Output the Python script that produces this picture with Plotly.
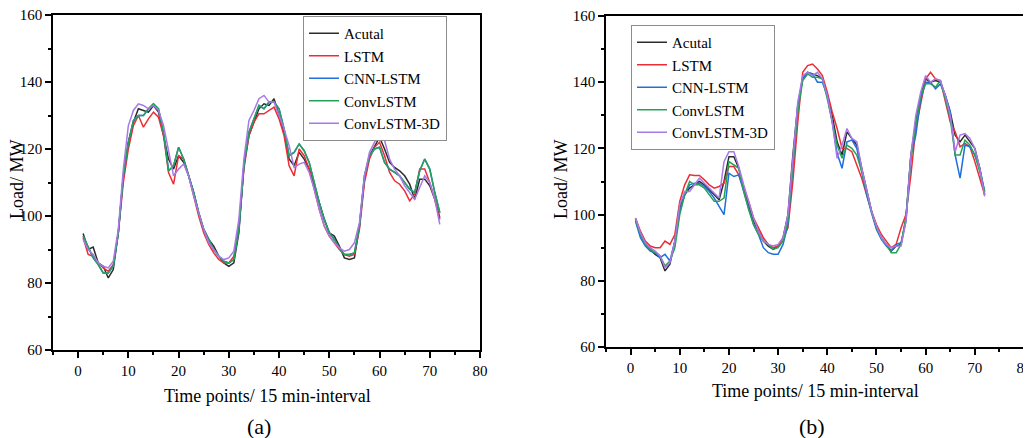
import plotly.graph_objects as go

t = list(range(1, 73))

# ---- panel (a) ----
actual_a = [94.8, 90, 90.7, 86, 85, 81.5, 84, 95, 112, 122, 128, 132, 131.5, 131, 133, 131,
            124, 117, 114, 118, 116, 112, 107, 101, 96, 93, 91, 88, 86, 85, 86, 95,
            115, 124, 128, 132, 133.5, 133, 135, 130, 125, 117, 115, 119, 117, 114, 109, 104,
            99, 95, 94, 91, 87.5, 87, 87.5, 97, 111, 118, 121, 123.5, 120, 116, 114.5, 113.5,
            112, 109.5, 105, 111, 111, 109, 105, 99.5]
lstm_a = [93.5, 88.5, 88, 86, 84.5, 83.5, 85.5, 95, 110, 120, 127, 130, 126.5, 129, 131, 129.5,
          124, 113, 109.5, 118, 117, 112, 106, 100, 95, 91.5, 89, 87, 86, 86, 88, 97,
          114, 124, 128, 130.5, 130.5, 131.5, 132.5, 129, 124, 115, 112, 120, 118, 114, 108, 102,
          97, 94, 92, 90, 88.5, 88, 88.5, 96, 110, 117, 120.5, 122, 118, 113, 110.5, 109.5,
          107.5, 104.5, 106.5, 114, 114, 110, 105, 99]
convlstm_a = [94, 91, 87.5, 85.5, 83, 83, 85, 95, 112, 122, 128.5, 130, 130, 132, 133.5, 132,
              125, 113.5, 115, 120.5, 117, 112, 107, 101, 96, 93, 90, 88, 86.5, 86, 87, 96,
              115, 125, 129, 133, 132, 134, 134, 132, 126, 118, 119, 121.5, 119.5, 116, 110, 104,
              99, 95, 93, 90.5, 88.5, 88.5, 89, 97, 112, 118, 120, 120.5, 116, 114, 113, 112,
              110, 108, 107, 113.5, 117, 114, 107, 101]
cnnlstm_a = [94, 91, 87.5, 85.5, 83, 83, 85, 95, 112, 122, 128.5, 130, 130, 132, 133.5, 132,
             125, 113.5, 115, 120.5, 117, 112, 107, 101, 96, 93, 90, 88, 86.5, 86, 87, 96,
             115, 125, 129, 133, 132, 134, 134, 132, 126, 118, 119, 121.5, 119.5, 116, 110, 104,
             99, 95, 93, 90.5, 88.5, 88.5, 89, 97, 112, 118, 120, 120.5, 116, 114, 113, 112,
             110, 108, 107, 113.5, 117, 114, 107, 101]
conv3d_a = [93, 90, 88.5, 86, 85, 84.5, 86.5, 96, 114, 127, 131.5, 133.5, 133, 132, 133, 131.5,
            127, 120, 112, 114, 115.5, 112, 106, 101, 96, 92, 90, 88, 87, 87.5, 89.5, 99,
            117, 128.5, 131.5, 135, 136, 134, 134, 130, 126, 121, 114.5, 115.5, 116, 113, 108, 102,
            97, 94, 92, 90.5, 89.5, 90, 92, 98, 112, 119, 122, 125, 122.5, 117, 114, 112,
            109, 107, 105, 108.5, 112, 110, 105, 97.5]

# ---- panel (b) ----
actual_b = [98.5, 94, 91, 89.5, 88, 87, 83, 85, 92, 102, 106, 108, 109, 110, 109, 107.5,
            106, 104.5, 110, 117.5, 117.5, 114, 108, 103, 98, 95, 92, 90.5, 89.5, 90.5, 93, 100,
            118, 133, 141, 143, 142.5, 142, 141, 136, 130, 122, 118, 125, 123, 121, 114, 107,
            101, 96, 93, 91, 89, 90.5, 91, 99, 118, 128, 136, 141, 140, 140.5, 140, 136,
            131, 124, 122, 124, 122, 120, 114, 106]
lstm_b = [99, 95, 92, 90.5, 90, 90, 92, 91, 94, 104, 109, 112, 111.8, 111.8, 110.5, 109,
          108, 108.5, 109.5, 114.5, 114.5, 112, 108, 104, 99, 96, 93, 91, 90, 90.5, 93, 96,
          110, 128, 143, 145, 145.5, 144, 142, 137, 131, 126, 120, 120, 119, 115, 111, 106,
          101, 97, 94, 92, 90, 91, 96, 100, 112, 126, 134, 141, 143, 141, 140.5, 134,
          128, 125, 120.5, 121.5, 120.5, 116, 111, 106]
cnnlstm_b = [98, 93, 90.5, 89, 88.5, 87, 88, 86, 92, 101, 106, 109, 109.5, 109.5, 108.5, 107,
             105, 102.5, 100, 112.5, 111.5, 112, 107, 102, 97, 94, 90, 88.5, 88, 88, 91, 97,
             115, 133, 141, 143, 142.5, 140, 140, 136, 128, 118.5, 114, 122, 122.5, 120, 113, 106,
             100.5, 95.5, 92.5, 90.5, 89, 91, 91.5, 98, 118, 124, 135, 140, 140, 138, 139.5, 136,
             131, 118, 111, 121, 120.5, 118, 114, 107]
convlstm_b = [98.5, 94, 91, 89.5, 88.5, 87.5, 84.5, 86, 90, 100, 106, 110, 109, 109, 108, 106,
              104, 104, 105, 116, 115, 114, 107, 101.5, 97, 94, 92, 91, 89.5, 90, 92, 98,
              115, 131, 140.5, 142.5, 141.5, 141.5, 141, 135, 128, 121, 117, 121, 120, 118, 113, 107,
              101, 96, 93, 91, 88.5, 88.5, 91, 99, 117, 127, 136, 139.5, 139.5, 138.5, 140.5, 135,
              129, 118, 118, 122.5, 121, 118, 113, 107]
conv3d_b = [99, 94.5, 91.5, 90, 89, 87.5, 84, 85.5, 92, 103, 107, 107, 109, 111, 109.5, 108,
            106.5, 105, 116, 119, 119, 114.5, 109, 104, 99, 95, 92, 91, 90.5, 91, 93, 100,
            118, 134, 142, 143, 142, 143, 141, 136, 128, 117, 121, 126, 123, 122, 114, 107,
            101, 96.5, 93, 91, 90, 90.5, 90.5, 98, 118, 130, 137, 142, 140, 141, 140.5, 136,
            130, 119, 124, 124.5, 123, 120, 114, 105.5]

names = ["Acutal", "LSTM", "CNN-LSTM", "ConvLSTM", "ConvLSTM-3D"]
colors = ["#2b2b2b", "#ec2d35", "#1f6fdc", "#27a158", "#a878e6"]
panel_a = [actual_a, lstm_a, cnnlstm_a, convlstm_a, conv3d_a]
panel_b = [actual_b, lstm_b, cnnlstm_b, convlstm_b, conv3d_b]

FONT = "Liberation Serif, Times New Roman, serif"
# page body has an 8px margin, so the figure is 8px smaller each way
W, H = 1023, 430

fig = go.Figure()
for name, col, ya in zip(names, colors, panel_a):
    fig.add_trace(go.Scatter(x=t, y=ya, mode="lines", name=name,
                             line=dict(color=col, width=1.5),
                             xaxis="x", yaxis="y", legend="legend"))
for name, col, yb in zip(names, colors, panel_b):
    fig.add_trace(go.Scatter(x=t, y=yb, mode="lines", name=name,
                             line=dict(color=col, width=1.5),
                             xaxis="x2", yaxis="y2", legend="legend2"))

ax = dict(showline=True, linecolor="black", linewidth=1.5, mirror=True,
          ticks="outside", ticklen=6, tickwidth=1.5, tickcolor="black",
          showgrid=False, zeroline=False, automargin=False,
          ticklabeloverflow="allow",
          tickfont=dict(family=FONT, size=15, color="black"))
xminor = dict(ticks="outside", ticklen=3, dtick=5, tickcolor="black")
yminor = dict(ticks="outside", ticklen=3, dtick=10, tickcolor="black")
leg = dict(xanchor="left", yanchor="top", bordercolor="#8c8c8c", borderwidth=1,
           bgcolor="white", font=dict(family=FONT, size=15, color="black"),
           tracegroupgap=0)

fig.update_layout(
    xaxis=dict(ax, domain=[45 / W, 472 / W], range=[-5, 80], dtick=10, tick0=0,
               minor=xminor, anchor="y"),
    yaxis=dict(ax, domain=[(H - 342) / H, (H - 7) / H], range=[60, 160], dtick=20, tick0=60,
               minor=yminor, anchor="x"),
    xaxis2=dict(ax, domain=[598 / W, 1016 / W], range=[-5, 80], dtick=10, tick0=0,
                minor=xminor, anchor="y2"),
    yaxis2=dict(ax, domain=[(H - 339) / H, (H - 8) / H], range=[60, 160], dtick=20, tick0=60,
                minor=yminor, anchor="x2"),
    legend=dict(leg, x=295 / W, y=(H - 8) / H),
    legend2=dict(leg, x=623 / W, y=(H - 17) / H),
    width=W, height=H,
    margin=dict(l=0, r=0, t=0, b=0),
    paper_bgcolor="white", plot_bgcolor="white",
    showlegend=True,
)

ann = dict(xref="paper", yref="paper", showarrow=False,
           xanchor="center", yanchor="middle",
           font=dict(family=FONT, size=18, color="black"))
big = dict(ann, font=dict(family=FONT, size=22, color="black"))
fig.add_annotation(ann, x=259 / W, y=(H - 388) / H, text="Time points/ 15 min-interval")
fig.add_annotation(ann, x=807 / W, y=(H - 383) / H, text="Time points/ 15 min-interval")
fig.add_annotation(ann, x=9 / W, y=(H - 172) / H, text="Load/ MW", textangle=-90)
fig.add_annotation(ann, x=553 / W, y=(H - 172) / H, text="Load/ MW", textangle=-90)
fig.add_annotation(big, x=251 / W, y=(H - 418) / H, text="(a)")
fig.add_annotation(big, x=804 / W, y=(H - 418) / H, text="(b)")

fig.write_html("out.html")
